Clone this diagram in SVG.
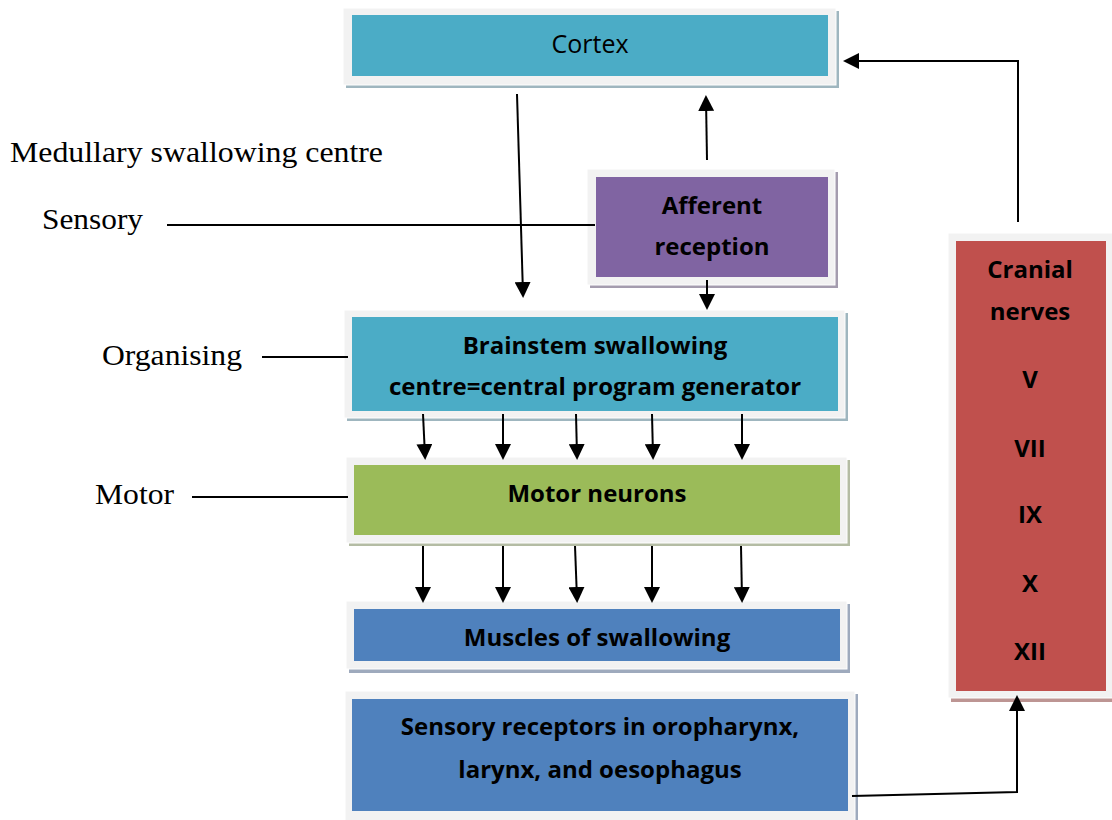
<svg xmlns="http://www.w3.org/2000/svg" width="1112" height="820" viewBox="0 0 1112 820">
<defs>
<style>
.frame{fill:#f2f2f2}
.lbl{font-family:"Liberation Serif","Times New Roman",serif;font-size:30px;fill:#000}
.t{font-family:"Open Sans","Liberation Sans",sans-serif;font-weight:bold;font-size:24px;fill:#000;text-anchor:middle}
.tr{font-family:"Open Sans","Liberation Sans",sans-serif;font-size:25px;fill:#000;text-anchor:middle}
.ln{stroke:#000;stroke-width:2;fill:none}
.ar{stroke:#000;stroke-width:2;fill:none;marker-end:url(#ah)}
</style>
<marker id="ah" viewBox="0 0 16 16" refX="12" refY="8" markerWidth="16" markerHeight="16" markerUnits="userSpaceOnUse" orient="auto">
<path d="M0,0 L16,8 L0,16 z" fill="#000"/>
</marker>
</defs>
<rect width="1112" height="820" fill="#fff"/>

<g id="labels">
<text class="lbl" x="10" y="162" textLength="373" lengthAdjust="spacingAndGlyphs">Medullary swallowing centre</text>
<text class="lbl" x="42" y="229" textLength="101" lengthAdjust="spacingAndGlyphs">Sensory</text>
<text class="lbl" x="102" y="365" textLength="140" lengthAdjust="spacingAndGlyphs">Organising</text>
<text class="lbl" x="95" y="504" textLength="79" lengthAdjust="spacingAndGlyphs">Motor</text>
</g>

<g id="cortex">
<rect x="346" y="11" width="493" height="77" fill="#9fb6bf"/>
<rect x="343" y="8" width="493" height="77" class="frame" stroke="#fff" stroke-width="1"/>
<rect x="352" y="15" width="476" height="61" fill="#4bacc6"/>
<text class="tr" x="590" y="53">Cortex</text>
</g>

<g id="afferent">
<rect x="590" y="172" width="248" height="116" fill="#a49cae"/>
<rect x="587" y="169" width="248" height="116" class="frame" stroke="#fff" stroke-width="1"/>
<rect x="596" y="177" width="232" height="100" fill="#8064a2"/>
<text class="t" x="712" y="214">Afferent</text>
<text class="t" x="712" y="255">reception</text>
</g>

<g id="brainstem">
<rect x="347" y="313" width="501" height="108" fill="#9fb6bf"/>
<rect x="344" y="310" width="501" height="108" class="frame" stroke="#fff" stroke-width="1"/>
<rect x="352" y="317" width="486" height="94" fill="#4bacc6"/>
<text class="t" x="595" y="354">Brainstem swallowing</text>
<text class="t" x="595" y="395">centre=central program generator</text>
</g>

<g id="motor-neurons">
<rect x="349" y="460" width="501" height="86" fill="#b4bca4"/>
<rect x="346" y="457" width="501" height="86" class="frame" stroke="#fff" stroke-width="1"/>
<rect x="354" y="465" width="486" height="70" fill="#9bbb59"/>
<text class="t" x="597" y="502">Motor neurons</text>
</g>

<g id="muscles">
<rect x="349" y="604" width="501" height="69" fill="#9eaabd"/>
<rect x="346" y="601" width="501" height="68" class="frame" stroke="#fff" stroke-width="1"/>
<rect x="354" y="609" width="486" height="52" fill="#4f81bd"/>
<text class="t" x="597" y="646">Muscles of swallowing</text>
</g>

<g id="sensory-receptors">
<rect x="348" y="694" width="510" height="130" fill="#9eaabd"/>
<rect x="345" y="691" width="510" height="130" class="frame" stroke="#fff" stroke-width="1"/>
<rect x="352" y="699" width="496" height="112" fill="#4f81bd"/>
<text class="t" x="600" y="735">Sensory receptors in oropharynx,</text>
<text class="t" x="600" y="778">larynx, and oesophagus</text>
</g>

<g id="cranial-nerves">
<rect x="951" y="236" width="165" height="466" fill="#bd9593"/>
<rect x="948" y="233" width="165" height="465" class="frame" stroke="#fff" stroke-width="1"/>
<rect x="956" y="241" width="150" height="450" fill="#c0504d"/>
<text class="t" x="1030" y="278">Cranial</text>
<text class="t" x="1030" y="320">nerves</text>
<text class="t" x="1030" y="388">V</text>
<text class="t" x="1030" y="457">VII</text>
<text class="t" x="1030" y="523">IX</text>
<text class="t" x="1030" y="592">X</text>
<text class="t" x="1030" y="660">XII</text>
</g>

<g id="connectors">
<line class="ln" x1="167" y1="225" x2="595" y2="225"/>
<line class="ln" x1="262" y1="357" x2="348" y2="357"/>
<line class="ln" x1="192" y1="497" x2="348" y2="497"/>
<line class="ar" x1="517" y1="94" x2="523" y2="294"/>
<line class="ar" x1="707" y1="160" x2="706" y2="99"/>
<line class="ar" x1="707" y1="280" x2="707" y2="306"/>
<line class="ar" x1="423" y1="414" x2="425" y2="456"/>
<line class="ar" x1="503" y1="414" x2="503" y2="456"/>
<line class="ar" x1="576" y1="414" x2="577" y2="456"/>
<line class="ar" x1="652" y1="414" x2="653" y2="456"/>
<line class="ar" x1="742" y1="414" x2="742" y2="456"/>
<line class="ar" x1="423" y1="546" x2="423" y2="599"/>
<line class="ar" x1="503" y1="546" x2="503" y2="599"/>
<line class="ar" x1="575" y1="546" x2="577" y2="599"/>
<line class="ar" x1="652" y1="546" x2="652" y2="599"/>
<line class="ar" x1="741" y1="546" x2="742" y2="599"/>
<polyline class="ar" points="1018,222 1018,61 847,61"/>
<polyline class="ar" points="852,796 1017,792 1017,699"/>
</g>
</svg>
